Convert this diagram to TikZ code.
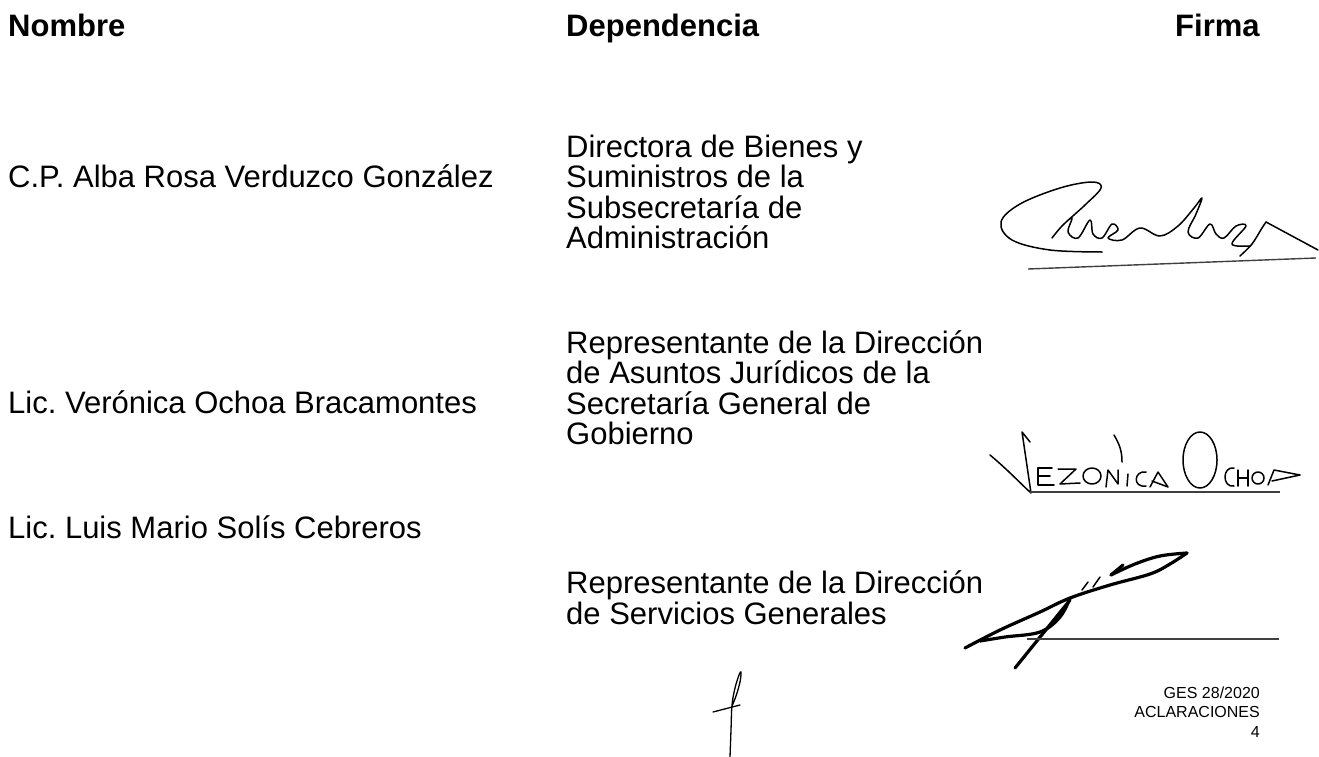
\documentclass[tikz,border=0pt]{standalone}
\usepackage{fontspec}
\setmainfont{Liberation Sans}
\usepackage{tikz}
\usetikzlibrary{positioning}
\frenchspacing
\begin{document}
\begin{tikzpicture}[x=1pt,y=-1pt,
    hdr/.style={anchor=base west,inner sep=0pt,font=\fontsize{31}{30.5}\selectfont\bfseries},
    cell/.style={anchor=base west,inner sep=0pt,align=left,font=\fontsize{31}{30.5}\selectfont},
    sig/.style={line width=1.5pt,line cap=round,line join=round},
    sigbold/.style={line width=3.2pt,line cap=round,line join=round},
    rule/.style={line width=1.4pt,black!75},
    pen/.style={line width=1.3pt,line cap=round}]
                \useasboundingbox[fill=white] (0,0) rectangle (1319,757);
                \node[hdr] (hnombre) at (8,37) {Nombre};
                \node[hdr] (hdep) at (566,37) {Dependencia};
                \node[hdr] (hfirma) at (1175,37) {Firma};

                % la base de cada celda es su ultima linea
                \node[cell] (nom1) at (8,187) {C.P. Alba Rosa Verduzco González};
                \node[cell] (dep1) at (566,248.5) {Directora de Bienes y\\Suministros de la\\Subsecretaría de\\Administración};
                \node[cell] (nom2) at (8,413) {Lic. Verónica Ochoa Bracamontes};
                \node[cell] (dep2) at (566,444.5) {Representante de la Dirección\\de Asuntos Jurídicos de la\\Secretaría General de\\Gobierno};
                \node[cell] (nom3) at (8,538) {Lic. Luis Mario Solís Cebreros};
                \node[cell] (dep3) at (566,624) {Representante de la Dirección\\de Servicios Generales};

                \node[anchor=base east,inner sep=0pt,align=right,font=\fontsize{16}{19.5}\selectfont] (folio) at (1260,737) {GES 28/2020\\ACLARACIONES\\4};

                % firma 1
                \draw[sig] plot[smooth,tension=0.6] coordinates {(1102,252) (1050,250) (1012,240) (1001,222) (1020,204) (1060,188) (1092,182) (1101,188) (1085,205) (1063,225) (1052,238) (1062,226) (1072,218) (1068,232) (1078,238) (1090,220) (1093,234) (1102,238) (1112,224) (1118,230) (1108,238) (1122,240) (1140,228) (1160,236) (1178,226) (1194,208) (1202,198) (1196,214) (1188,232) (1198,238) (1210,224) (1216,234) (1224,238) (1236,226) (1246,226) (1232,244) (1250,246)};
                \draw[sig] plot[smooth] coordinates {(1240,256) (1252,244) (1262,228) (1266,222)};
                \draw[sig] (1266,222) -- (1318,250);
                \draw[rule] (1028,269) -- (1316,258);

                % firma 2
                \draw[sig] (990,455) .. controls (1008,470) and (1022,485) .. (1031,493) -- (1022,432) -- (1030,442);
                \draw[sig] (1052,468) -- (1038,468) -- (1038,485) -- (1054,485) (1038,476) -- (1050,476);
                \draw[sig] (1058,469) -- (1076,469) -- (1060,484) -- (1080,483);
                \draw[sig] (1092,476) ellipse (9 and 8);
                \draw[sig] (1106,487) -- (1108,470) -- (1118,484) -- (1118,470);
                \draw[sig] (1114,435) .. controls (1120,445) and (1122,452) .. (1122,462);
                \draw[sig] (1127,486) -- (1128,474);
                \draw[sig] (1146,472) .. controls (1134,470) and (1132,488) .. (1146,486);
                \draw[sig] (1150,487) -- (1158,472) -- (1168,487) -- (1152,481);
                \draw[sig] (1200,460) ellipse (17 and 28);
                \draw[sig] (1234,468) .. controls (1222,466) and (1222,488) .. (1234,486);
                \draw[sig] (1238,470) -- (1238,486) (1248,470) -- (1248,486) (1238,478) -- (1248,478);
                \draw[sig] (1258,478) circle (6);
                \draw[sig] (1268,485) -- (1274,470) -- (1300,475) -- (1272,481);
                \draw[rule] (1030,492) -- (1280,492);

                % firma 3
                \draw[sigbold] plot[smooth,tension=0.6] coordinates {(965,648) (1000,630) (1040,612) (1070,598) (1110,585) (1150,574) (1170,564) (1187,553)};
                \draw[sigbold] plot[smooth,tension=0.6] coordinates {(1187,553) (1160,556) (1135,564) (1111,575)};
                \draw[sigbold] (1111,575) -- (1123,565);
                \draw[sigbold] plot[smooth,tension=0.6] coordinates {(1070,598) (1060,617) (1040,632) (1005,637) (980,641)};
                \draw[sigbold] (1070,600) -- (1015,668);
                \draw[sig] (1082,590) -- (1088,582) (1093,587) -- (1100,577);
                \draw[rule] (1027,639) -- (1279,639);

                % rubrica
                \draw[pen] plot[smooth,tension=0.6] coordinates {(730,757) (731,730) (732,705) (735,688) (739,675) (741,672) (740,682) (736,696) (732,706)};
                \draw[pen] (713,712) -- (740,705);

            \end{tikzpicture}
\end{document}
